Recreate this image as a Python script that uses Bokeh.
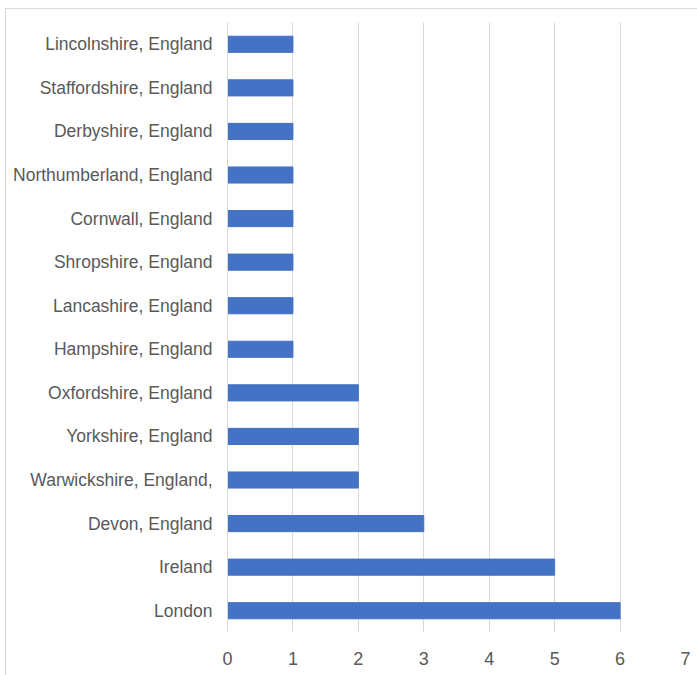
from bokeh.plotting import figure
from bokeh.models import FixedTicker
from bokeh.embed import file_html
from bokeh.resources import INLINE

categories = ["London", "Ireland", "Devon, England", "Warwickshire, England,",
              "Yorkshire, England", "Oxfordshire, England", "Hampshire, England",
              "Lancashire, England", "Shropshire, England", "Cornwall, England",
              "Northumberland, England", "Derbyshire, England",
              "Staffordshire, England", "Lincolnshire, England"]
counts = [6, 5, 3, 2, 2, 2, 1, 1, 1, 1, 1, 1, 1, 1]
x_ticks = [0, 1, 2, 3, 4, 5, 6, 7]

p = figure(width=692, height=667, y_range=categories, x_range=(0, 7),
           output_backend="svg", toolbar_location=None,
           min_border_left=221, min_border_right=13, min_border_top=13, min_border_bottom=44)
p.margin = (8, 0, 0, 5)
p.styles = {"border-left": "1px solid #d9d9d9", "border-top": "1px solid #d9d9d9"}

p.hbar(y=categories, right=counts, left=0, height=0.37, color="#4472C4")

p.outline_line_color = None
p.ygrid.grid_line_color = None
p.xgrid.grid_line_color = "#d9d9d9"
p.xgrid.ticker = FixedTicker(ticks=x_ticks)
p.xaxis.ticker = FixedTicker(ticks=x_ticks)
p.xaxis.axis_line_color = None
p.xaxis.major_tick_line_color = None
p.xaxis.minor_tick_line_color = None
p.xaxis.major_label_standoff = 13
p.xaxis.major_label_text_font = "Liberation Sans"
p.xaxis.major_label_text_font_size = "18px"
p.xaxis.major_label_text_color = "#595959"

p.yaxis.axis_line_color = "#d9d9d9"
p.yaxis.major_tick_line_color = None
p.yaxis.minor_tick_line_color = None
p.yaxis.major_label_standoff = 9
p.yaxis.major_label_text_font = "Liberation Sans"
p.yaxis.major_label_text_font_size = "17.5px"
p.yaxis.major_label_text_color = "#595959"

open("out.html", "w").write(file_html(p, INLINE))
